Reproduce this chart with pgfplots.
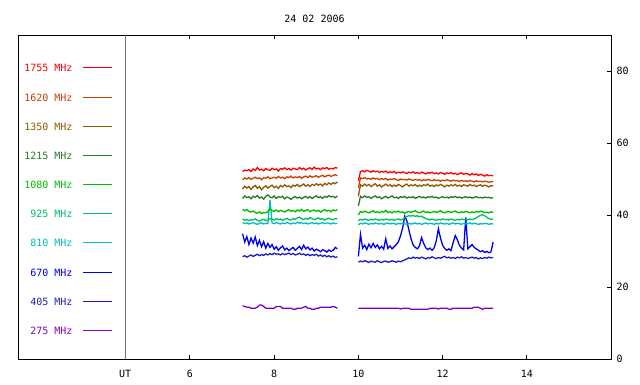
\documentclass[border=0pt]{standalone}
\usepackage{pgfplots}
\pgfplotsset{compat=1.18}
\usepackage{pgfplotstable}
\usepackage{fontspec}
\setmainfont{DejaVu Sans Mono}
\definecolor{c1755}{RGB}{255,0,0}
\definecolor{c1620}{RGB}{200,64,0}
\definecolor{c1350}{RGB}{140,90,0}
\definecolor{c1215}{RGB}{40,120,40}
\definecolor{c1080}{RGB}{0,190,0}
\definecolor{c925}{RGB}{0,190,100}
\definecolor{c810}{RGB}{0,190,190}
\definecolor{c670}{RGB}{0,0,240}
\definecolor{c405}{RGB}{30,30,190}
\definecolor{c275}{RGB}{128,0,192}

\pgfplotstableread{
t r o b dg g tg c bl db p
7.25 52.0 49.8 47.2 44.6 41.6 38.9 37.9 34.8 28.4 14.8
7.30 52.5 50.3 48.0 45.3 41.2 38.5 37.6 32.5 28.7 14.6
7.35 52.3 50.0 47.5 44.8 41.5 38.8 37.8 34.0 28.3 14.4
7.40 52.6 50.4 47.9 45.1 41.0 38.4 37.5 31.8 28.6 14.4
7.45 52.1 49.9 47.1 44.5 40.8 38.7 37.7 33.6 28.9 14.1
7.50 52.8 50.2 47.8 45.2 41.1 38.6 37.9 32.2 28.5 14.1
7.55 52.4 50.5 48.2 44.9 40.7 38.9 37.6 33.9 28.8 14.1
7.60 53.2 50.1 47.4 45.4 40.5 38.5 37.4 31.5 29.1 14.4
7.65 52.5 50.3 47.9 44.7 40.9 38.3 37.7 33.0 28.7 15.0
7.70 52.7 49.8 47.0 45.0 40.4 38.6 37.8 31.2 29.0 15.0
7.75 52.3 50.4 47.7 44.4 40.7 38.8 37.5 32.6 28.8 14.6
7.80 52.9 50.2 48.1 45.2 40.6 38.4 37.7 30.8 29.2 14.1
7.85 52.6 50.6 47.5 45.6 41.0 38.7 37.6 32.1 28.9 14.1
7.90 52.4 50.1 47.9 45.0 41.8 39.0 44.2 31.0 29.3 14.1
7.95 53.0 50.3 48.3 44.8 41.2 38.8 37.8 31.8 29.0 14.1
8.00 52.6 50.5 47.6 45.3 41.0 38.6 37.6 30.5 29.4 14.1
8.05 52.8 50.2 48.0 44.6 41.4 39.0 37.9 31.2 29.1 14.6
8.10 52.2 50.7 47.4 45.1 40.9 38.7 37.7 30.2 29.2 14.6
8.15 52.9 50.3 48.2 44.9 41.3 38.9 37.5 30.9 28.9 14.6
8.20 52.7 50.5 47.8 45.2 41.1 38.5 37.8 31.4 29.3 14.1
8.25 53.1 50.1 48.4 44.5 40.8 38.8 37.6 30.3 29.0 14.1
8.30 52.6 50.6 47.9 45.0 41.2 39.1 37.9 30.8 29.2 14.1
8.35 52.9 50.4 48.1 44.8 41.5 38.7 37.7 30.1 29.4 14.1
8.40 52.5 50.8 47.6 44.3 41.0 38.6 37.5 30.6 29.0 14.1
8.45 53.0 50.3 48.3 44.9 41.3 39.0 37.8 31.0 29.3 13.8
8.50 52.8 50.6 48.0 45.1 40.9 38.8 37.6 30.2 28.9 13.8
8.55 52.6 50.4 48.5 44.7 41.4 39.2 38.0 30.7 29.1 14.1
8.60 53.2 50.7 47.9 45.0 41.1 39.4 37.7 31.3 29.4 14.1
8.65 52.7 50.2 48.2 44.5 41.6 39.0 37.9 30.4 29.0 14.1
8.70 53.0 50.6 48.6 44.9 41.0 38.7 37.6 31.6 29.2 14.4
8.75 52.5 50.8 48.0 45.2 41.3 39.1 37.8 30.6 28.8 14.6
8.80 52.9 50.4 48.4 44.7 41.5 38.8 37.5 31.1 29.1 14.1
8.85 53.1 50.9 47.9 45.1 40.9 39.3 37.7 30.3 28.7 14.1
8.90 52.7 50.5 48.5 44.6 41.2 39.0 37.9 30.8 29.0 13.8
8.95 53.3 50.7 48.2 45.0 41.4 38.7 37.6 30.0 28.8 13.8
9.00 52.8 50.9 48.7 45.3 41.0 38.9 37.8 30.5 29.1 14.1
9.05 53.0 50.5 48.3 44.8 41.3 39.2 37.5 30.2 28.6 14.1
9.10 52.6 50.8 48.6 45.1 40.8 38.8 37.7 29.8 28.9 14.4
9.15 53.1 51.0 48.1 44.6 41.2 39.0 37.9 30.4 28.5 14.4
9.20 52.9 50.6 48.8 45.2 41.5 38.6 37.6 30.1 28.8 14.4
9.25 53.2 50.9 48.4 44.9 41.1 38.9 37.8 29.7 28.4 14.4
9.30 52.7 51.1 48.9 45.4 41.3 39.1 37.7 30.3 28.7 14.4
9.35 53.0 50.7 48.5 45.0 40.9 38.8 37.5 29.9 28.3 14.4
9.40 52.8 51.0 49.0 45.2 41.4 38.7 37.8 30.2 28.6 14.6
9.45 53.2 51.2 48.7 44.8 41.2 39.0 37.6 31.0 28.2 14.4
9.50 53.0 50.9 49.2 45.3 41.5 38.9 37.7 30.6 28.4 14.1
}\segA

\pgfplotstableread{
t r o b dg g tg c bl db p
10.00 49.5 47.5 45.2 42.5 40.0 38.4 37.3 28.5 26.9 14.1
10.05 52.1 50.3 48.4 45.2 41.0 38.8 37.7 34.6 27.2 14.1
10.10 52.3 50.1 48.0 44.8 40.7 38.6 37.5 30.8 27.0 14.1
10.15 52.0 50.4 48.6 45.3 41.1 38.9 37.8 31.6 27.3 14.1
10.20 52.4 50.0 48.1 44.9 40.8 38.7 37.6 30.4 27.1 14.1
10.25 52.2 50.2 48.5 45.1 40.6 38.5 37.4 31.9 26.8 14.1
10.30 51.9 49.9 47.9 44.6 40.9 38.8 37.7 30.9 27.2 14.1
10.35 52.3 50.3 48.3 45.0 41.2 38.6 37.5 32.1 27.0 14.1
10.40 52.0 50.0 48.7 45.3 40.7 38.9 37.8 31.0 26.9 14.1
10.45 52.2 50.2 48.0 44.8 40.9 38.7 37.6 31.7 27.3 14.1
10.50 51.8 49.8 48.4 45.1 40.6 38.5 37.5 30.6 27.0 14.1
10.55 52.1 50.1 47.8 44.5 41.0 38.8 37.7 31.3 26.8 14.1
10.60 51.9 49.9 48.2 44.9 40.8 38.6 37.4 30.5 27.1 14.1
10.65 52.2 50.2 48.6 45.2 41.3 38.9 37.6 33.4 27.2 14.1
10.70 51.7 49.7 48.1 44.7 40.7 38.7 37.8 30.7 26.9 14.1
10.75 52.0 50.0 48.4 45.0 40.9 38.6 37.5 31.4 27.0 14.1
10.80 51.8 49.9 47.9 45.3 40.6 38.8 37.7 30.6 27.3 14.1
10.85 52.1 50.1 48.3 44.8 41.0 38.5 37.6 31.2 27.1 14.1
10.90 51.6 49.8 48.0 45.0 40.8 38.7 37.4 31.8 26.9 14.1
10.95 51.9 49.6 48.5 44.6 41.1 38.9 37.7 32.6 27.2 14.1
11.00 51.7 50.0 48.2 45.1 40.7 38.6 37.5 34.2 27.0 13.9
11.05 52.0 49.8 47.8 44.9 40.9 38.8 37.8 36.3 27.3 14.1
11.10 51.8 49.9 48.3 45.2 40.5 39.3 37.6 39.7 27.5 14.1
11.15 51.5 49.7 48.6 44.7 40.8 39.6 37.4 38.4 27.8 14.1
11.20 51.9 50.0 48.0 45.0 41.0 39.8 37.7 35.8 28.1 14.1
11.25 51.7 49.8 48.4 44.8 40.7 39.7 37.5 33.4 27.9 13.8
11.30 52.0 49.6 48.1 45.1 40.9 39.9 37.6 31.7 28.3 13.8
11.35 51.6 49.9 48.5 44.6 41.2 39.6 37.8 31.0 28.0 13.8
11.40 51.8 49.7 47.9 44.9 40.8 39.8 37.5 30.6 28.2 13.8
11.45 51.5 49.8 48.3 45.2 40.6 39.5 37.7 31.4 27.9 13.8
11.50 51.9 49.5 48.0 44.8 40.9 39.7 37.4 33.7 28.3 13.8
11.55 51.7 49.8 48.4 45.0 41.1 39.3 37.6 32.1 28.1 13.8
11.60 51.4 49.6 48.2 44.7 40.7 39.0 37.8 30.9 27.8 13.8
11.65 51.8 49.9 48.6 45.1 40.9 38.8 37.5 30.4 28.2 13.8
11.70 51.6 49.7 48.0 44.9 40.6 38.6 37.7 30.8 28.0 14.1
11.75 51.9 49.5 48.3 45.2 40.8 38.9 37.6 30.2 28.4 14.1
11.80 51.5 49.8 47.9 44.8 41.0 38.7 37.4 30.9 28.1 14.1
11.85 51.7 49.6 48.4 45.0 40.7 38.5 37.7 32.8 27.9 14.1
11.90 51.4 49.7 48.1 44.6 40.9 38.8 37.5 36.2 28.2 13.9
11.95 51.8 49.4 48.5 44.9 41.2 38.6 37.8 33.6 28.0 14.1
12.00 51.6 49.7 48.2 45.1 40.8 38.9 37.6 31.6 28.3 14.1
12.05 51.3 49.5 47.8 44.8 40.6 38.7 37.5 30.7 28.5 14.1
12.10 51.7 49.8 48.3 45.0 40.9 38.8 37.7 30.2 28.1 14.1
12.15 51.5 49.6 48.0 44.7 41.0 38.6 37.4 30.6 28.3 13.8
12.20 51.8 49.4 48.4 45.1 40.7 38.9 37.6 30.1 28.0 13.8
12.25 51.4 49.7 48.1 44.9 40.9 38.7 37.8 32.3 28.2 14.1
12.30 51.6 49.5 48.5 45.2 41.1 38.5 37.5 34.3 27.9 14.1
12.35 51.2 49.6 48.0 44.8 40.8 38.8 37.7 33.1 28.3 14.1
12.40 51.5 49.3 48.3 45.0 40.6 38.6 37.6 31.6 28.1 14.1
12.45 51.7 49.6 47.9 44.7 40.9 38.9 37.4 30.8 28.4 14.1
12.50 51.3 49.4 48.4 44.9 40.7 38.7 37.7 30.3 28.0 14.1
12.55 51.6 49.5 48.2 45.1 41.0 38.8 37.5 39.3 28.2 14.1
12.60 51.4 49.3 48.0 44.8 40.8 38.6 37.6 30.6 27.9 14.1
12.65 51.1 49.6 48.5 45.0 40.6 38.9 37.8 31.2 28.1 14.1
12.70 51.5 49.4 48.1 44.7 40.9 38.7 37.5 31.8 28.3 14.1
12.75 51.2 49.2 48.3 44.9 40.7 38.9 37.7 31.0 28.0 14.4
12.80 51.4 49.5 47.9 45.1 41.0 39.2 37.6 30.6 28.2 14.4
12.85 51.0 49.3 48.2 44.8 40.8 39.6 37.4 30.2 27.8 14.4
12.90 51.3 49.4 48.4 44.9 41.1 39.9 37.6 29.8 28.1 14.1
12.95 51.1 49.2 48.0 44.7 40.9 40.1 37.5 30.1 27.9 13.8
13.00 50.8 49.4 48.3 45.0 40.7 39.8 37.7 29.6 28.2 14.1
13.05 51.2 49.3 48.1 44.8 40.8 39.4 37.6 29.9 28.0 14.1
13.10 50.9 49.1 47.8 44.9 40.6 39.0 37.4 29.5 28.3 14.1
13.15 51.0 49.3 48.2 44.7 40.9 38.8 37.6 29.8 28.1 14.1
13.20 50.9 49.2 48.0 44.8 40.7 38.9 37.5 32.5 28.2 14.1
}\segB

\begin{document}
\begin{tikzpicture}[x=1pt,y=1pt]
\path[use as bounding box] (0,0) rectangle (640,384);
\begin{axis}[
  at={(18pt,25pt)}, anchor=south west,
  scale only axis, width=593pt, height=324pt,
  xmin=1.915, xmax=16, ymin=0, ymax=90,
  axis line style={black, line width=1pt},
  font=\fontsize{10}{12}\selectfont,
  /pgf/number format/assume math mode=true,
  xtick={6,8,10,12,14},
  ytick={0,20,40,60,80},
  xtick pos=both, xticklabel pos=left,
  ytick pos=right, yticklabel pos=right,
  tick align=inside,
  major tick length=4pt,
  every tick/.style={black, line width=1pt},
  xticklabel style={anchor=base, yshift=-18pt, inner sep=0pt},
  yticklabel style={anchor=west, xshift=2pt},
  extra x ticks={4.457},
  extra x tick labels={UT},
  extra x tick style={grid=major, major grid style={black!55, line width=1pt}, major tick length=0pt},
  clip=false,
]
\node[anchor=base, inner sep=0pt, yshift=13pt] at (axis description cs:0.5,1) {24 02 2006};
% legend samples
\addplot[c1755, line width=1pt, forget plot] coordinates {(3.459,80.97) (4.141,80.97)};
\addplot[c1620, line width=1pt, forget plot] coordinates {(3.459,72.64) (4.141,72.64)};
\addplot[c1350, line width=1pt, forget plot] coordinates {(3.459,64.58) (4.141,64.58)};
\addplot[c1215, line width=1pt, forget plot] coordinates {(3.459,56.53) (4.141,56.53)};
\addplot[c1080, line width=1pt, forget plot] coordinates {(3.459,48.47) (4.141,48.47)};
\addplot[c925, line width=1pt, forget plot] coordinates {(3.459,40.42) (4.141,40.42)};
\addplot[c810, line width=1pt, forget plot] coordinates {(3.459,32.36) (4.141,32.36)};
\addplot[c670, line width=1pt, forget plot] coordinates {(3.459,24.03) (4.141,24.03)};
\addplot[c405, line width=1pt, forget plot] coordinates {(3.459,15.97) (4.141,15.97)};
\addplot[c275, line width=1pt, forget plot] coordinates {(3.459,7.92) (4.141,7.92)};
\node[anchor=east, text=c1755] at (axis cs:3.293,80.97) {1755 MHz};
\node[anchor=east, text=c1620] at (axis cs:3.293,72.64) {1620 MHz};
\node[anchor=east, text=c1350] at (axis cs:3.293,64.58) {1350 MHz};
\node[anchor=east, text=c1215] at (axis cs:3.293,56.53) {1215 MHz};
\node[anchor=east, text=c1080] at (axis cs:3.293,48.47) {1080 MHz};
\node[anchor=east, text=c925] at (axis cs:3.293,40.42) {925 MHz};
\node[anchor=east, text=c810] at (axis cs:3.293,32.36) {810 MHz};
\node[anchor=east, text=c670] at (axis cs:3.293,24.03) {670 MHz};
\node[anchor=east, text=c405] at (axis cs:3.293,15.97) {405 MHz};
\node[anchor=east, text=c275] at (axis cs:3.293,7.92) {275 MHz};
% data, segment A
\addplot[c275, line width=1.3pt] table[x=t,y=p] {\segA};
\addplot[c405, line width=1.3pt] table[x=t,y=db] {\segA};
\addplot[c670, line width=1.3pt] table[x=t,y=bl] {\segA};
\addplot[c810, line width=1.3pt] table[x=t,y=c] {\segA};
\addplot[c925, line width=1.3pt] table[x=t,y=tg] {\segA};
\addplot[c1080, line width=1.3pt] table[x=t,y=g] {\segA};
\addplot[c1215, line width=1.3pt] table[x=t,y=dg] {\segA};
\addplot[c1350, line width=1.3pt] table[x=t,y=b] {\segA};
\addplot[c1620, line width=1.3pt] table[x=t,y=o] {\segA};
\addplot[c1755, line width=1.3pt] table[x=t,y=r] {\segA};
% data, segment B
\addplot[c275, line width=1.3pt] table[x=t,y=p] {\segB};
\addplot[c405, line width=1.3pt] table[x=t,y=db] {\segB};
\addplot[c670, line width=1.3pt] table[x=t,y=bl] {\segB};
\addplot[c810, line width=1.3pt] table[x=t,y=c] {\segB};
\addplot[c925, line width=1.3pt] table[x=t,y=tg] {\segB};
\addplot[c1080, line width=1.3pt] table[x=t,y=g] {\segB};
\addplot[c1215, line width=1.3pt] table[x=t,y=dg] {\segB};
\addplot[c1350, line width=1.3pt] table[x=t,y=b] {\segB};
\addplot[c1620, line width=1.3pt] table[x=t,y=o] {\segB};
\addplot[c1755, line width=1.3pt] table[x=t,y=r] {\segB};
\end{axis}
\end{tikzpicture}
\end{document}
